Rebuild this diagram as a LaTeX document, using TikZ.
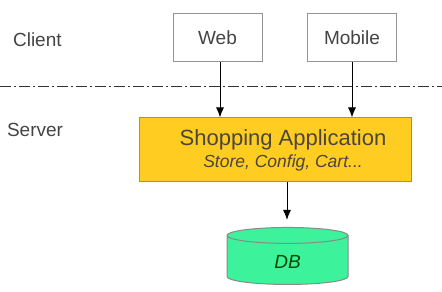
\documentclass[tikz,border=0pt]{standalone}
\usepackage{fontspec}
\setmainfont{Liberation Sans}
\usepackage{xcolor}
\usetikzlibrary{shapes,arrows.meta,positioning}

\definecolor{txtgray}{HTML}{444444}
\definecolor{appyellow}{HTML}{FFCC22}
\definecolor{appedge}{HTML}{B8960A}
\definecolor{dbgreen}{HTML}{3CF29A}
\definecolor{dbedge}{HTML}{8A8A8A}

\begin{document}
\begin{tikzpicture}[
    x=0.5pt, y=-0.5pt,
    lbl/.style={text=txtgray, font=\fontsize{9.5}{11}\selectfont, anchor=west},
    box/.style={rectangle, draw=gray!85, line width=0.5pt, fill=white, text=txtgray, minimum width=44.5pt, minimum height=24pt, font=\fontsize{9.5}{11}\selectfont},
    appbox/.style={rectangle, draw=appedge, line width=0.5pt, fill=appyellow, minimum width=136pt, minimum height=32pt, align=center, text=black!70!yellow!60!black},
    dbbox/.style={cylinder, draw=dbedge, line width=0.5pt, fill=dbgreen, shape border rotate=90, aspect=0.4, minimum width=60.5pt, minimum height=28.5pt, text=green!30!black, font=\fontsize{9.5}{11}\selectfont\itshape},
    arrow/.style={draw=black, line width=0.5pt, -{Latex[length=5pt,width=4pt]}}
]
    \useasboundingbox (0,0) rectangle (442,292);

    % Tiers
    \node (client) at (6, 40) [lbl] {Client};
    \node (server) at (0, 130) [lbl] {Server};
    \draw [black!80, line width=0.4pt, dash pattern=on 5.5pt off 1.5pt on 1pt off 1.5pt] (0, 86) -- (442, 86);

    % Clients
    \node (web) at (217.5, 38) [box] {Web};
    \node (mobile) at (352, 38) [box] {Mobile};

    % Application and storage
    \node (app) at (275, 150) [appbox] {\hspace*{8pt}{\fontsize{11}{13}\selectfont Shopping Application}\\[-1pt]\hspace*{8pt}{\fontsize{8.75}{10}\selectfont\itshape Store, Config, Cart...}};
    \node (db) at (287.5, 262) [dbbox] {DB};

    % Connections
    \draw [arrow] (web.south -| 220, 0) -- (app.north -| 220, 0);
    \draw [arrow] (mobile.south -| 352, 0) -- (app.north -| 352, 0);
    \draw [arrow, shorten >=3.5pt] (app.south -| 287, 0) -- (db.top -| 287, 0);
\end{tikzpicture}
\end{document}
